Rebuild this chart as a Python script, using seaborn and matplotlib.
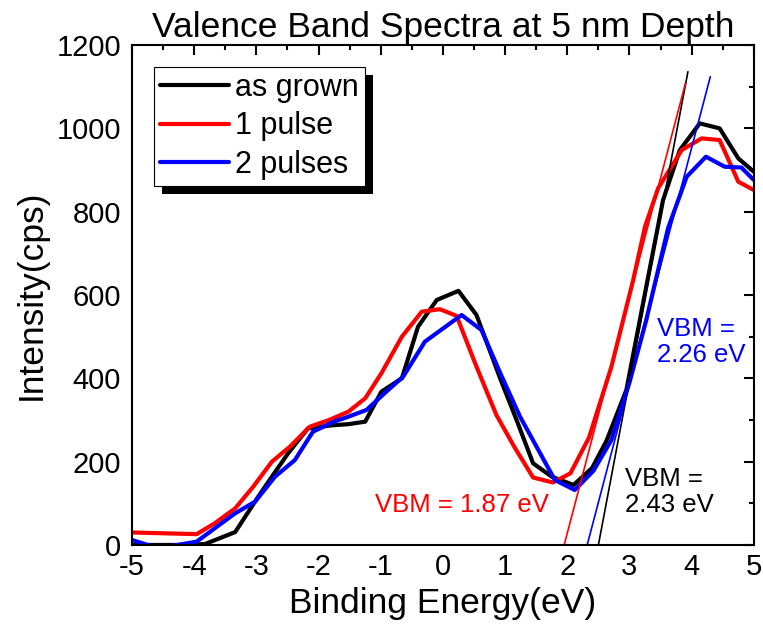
import matplotlib
matplotlib.use("Agg")
import matplotlib.pyplot as plt
from matplotlib.patches import Rectangle
from matplotlib.ticker import MultipleLocator
import seaborn as sns
import numpy as np

# ---------------- data ----------------
labels = ["as grown", "1 pulse", "2 pulses"]
colors = ["#000000", "#ff0000", "#0000ff"]

x_grown = [-5.0, -4.3, -3.83, -3.34, -2.97, -2.75, -2.49, -2.17, -1.8, -1.52, -1.25,
           -0.99, -0.66, -0.40, -0.10, 0.25, 0.54, 0.92, 1.2, 1.45, 1.75, 2.10,
           2.40, 2.63, 2.95, 3.27, 3.54, 3.81, 4.13, 4.45, 4.75, 5.0]
y_grown = [0, 0, 2, 31, 116, 164, 220, 280, 287, 290, 296,
           368, 400, 524, 588, 610, 552, 400, 294, 196, 164, 144,
           185, 250, 372, 620, 828, 948, 1012, 1000, 928, 896]

x_1pulse = [-5.0, -3.96, -3.67, -3.34, -3.05, -2.75, -2.46, -2.14, -1.83, -1.52, -1.25,
            -0.99, -0.66, -0.34, -0.05, 0.22, 0.54, 0.86, 1.15, 1.45, 1.77, 2.05,
            2.35, 2.71, 3.06, 3.25, 3.46, 3.84, 4.16, 4.45, 4.75, 5.0]
y_1pulse = [30, 26, 52, 88, 140, 200, 236, 284, 300, 320, 352,
            412, 500, 560, 566, 550, 428, 312, 235, 162, 150, 172,
            258, 428, 636, 764, 856, 948, 976, 972, 872, 852]

x_2pulse = [-5.0, -4.58, -3.96, -3.56, -3.34, -3.02, -2.70, -2.38, -2.09, -1.75, -1.52,
            -1.23, -0.94, -0.64, -0.29, 0.30, 0.62, 0.93, 1.24, 1.52, 1.80, 2.12,
            2.42, 2.71, 3.0, 3.27, 3.62, 3.92, 4.23, 4.53, 4.80, 5.0]
y_2pulse = [12, -8, 8, 52, 76, 104, 164, 204, 272, 296, 308,
            324, 364, 404, 488, 552, 516, 410, 308, 232, 156, 132,
            178, 252, 390, 540, 760, 884, 932, 908, 906, 876]

# linear-edge extrapolation lines (end points)
tan_x_grown = [2.50, 3.94]
tan_y_grown = [0, 1136]
tan_x_1pulse = [1.95, 3.90]
tan_y_1pulse = [0, 1108]
tan_x_2pulse = [2.32, 4.30]
tan_y_2pulse = [0, 1124]

vbm_texts = ["VBM =\n2.43 eV", "VBM = 1.87 eV", "VBM =\n2.26 eV"]
vbm_pos = [(2.93, 128), (-1.09, 97), (3.44, 488)]

xticks = [-5, -4, -3, -2, -1, 0, 1, 2, 3, 4, 5]
yticks = [0, 200, 400, 600, 800, 1000, 1200]

# ---------------- style ----------------
sns.set_style("white")
plt.rcParams["font.family"] = ["Liberation Sans", "DejaVu Sans"]
plt.rcParams["axes.unicode_minus"] = False
plt.rcParams["text.color"] = "black"
plt.rcParams["axes.labelcolor"] = "black"
plt.rcParams["xtick.color"] = "black"
plt.rcParams["ytick.color"] = "black"

fig = plt.figure(figsize=(7.63, 6.32), dpi=100)
ax = fig.add_axes([0.173, 0.1377, 0.815, 0.791])

series = [(x_grown, y_grown), (x_1pulse, y_1pulse), (x_2pulse, y_2pulse)]
tangents = [(tan_x_grown, tan_y_grown), (tan_x_1pulse, tan_y_1pulse),
            (tan_x_2pulse, tan_y_2pulse)]

for (xs, ys), lab, col in zip(series, labels, colors):
    sns.lineplot(x=xs, y=ys, color=col, linewidth=3.0, label=lab,
                 sort=False, estimator=None, ax=ax, legend=False)

for (xs, ys), col in zip(tangents, colors):
    sns.lineplot(x=xs, y=ys, color=col, linewidth=1.2, sort=False,
                 estimator=None, ax=ax, legend=False)

for txt, (tx, ty), col in zip(vbm_texts, vbm_pos, colors):
    ax.text(tx, ty, txt, color=col, fontsize=18.5, ha="left", va="center",
            linespacing=1.1)

ax.set_xlim(-5, 5)
ax.set_ylim(0, 1200)
ax.set_xticks(xticks)
ax.set_yticks(yticks)
ax.xaxis.set_minor_locator(MultipleLocator(0.5))
ax.yaxis.set_minor_locator(MultipleLocator(100))
ax.tick_params(which="both", direction="in", top=True, right=True,
               width=1.5, colors="black", labelsize=21)
ax.tick_params(which="major", length=7)
ax.tick_params(which="minor", length=3.6)
ax.tick_params(axis="x", which="major", pad=6)
ax.tick_params(axis="y", which="major", pad=8)
for sp in ax.spines.values():
    sp.set_visible(True)
    sp.set_linewidth(1.5)
    sp.set_color("black")

ax.set_xlabel("Binding Energy(eV)", fontsize=25.5, labelpad=4, color="black")
ax.set_ylabel("Intensity(cps)", fontsize=25.5, labelpad=6, color="black")
ax.set_title("Valence Band Spectra at 5 nm Depth", fontsize=25.5, pad=6,
             color="black")

leg = ax.legend(loc="upper left", bbox_to_anchor=(0.035, 0.956),
                borderaxespad=0, fontsize=22, frameon=True, fancybox=False,
                framealpha=1, edgecolor="black", handlelength=2.25,
                handletextpad=0.2, borderpad=0.2, labelspacing=0.27)
leg.get_frame().set_linewidth(0.8)
for h in leg.get_lines():
    h.set_linewidth(3.0)
for t in leg.get_texts():
    t.set_color("black")

fig.canvas.draw()
renderer = fig.canvas.get_renderer()
ext = leg.get_frame().get_window_extent(renderer)
dx, dy = 8, 8
bb = ext.transformed(fig.transFigure.inverted())
ox = dx / fig.bbox.width
oy = dy / fig.bbox.height
shadow = Rectangle((bb.x0 + ox, bb.y0 - oy), bb.width, bb.height,
                   transform=fig.transFigure, facecolor="black",
                   edgecolor="none", zorder=4.9, clip_on=False)
ax.add_patch(shadow)

fig.savefig("out.png", dpi=100)
